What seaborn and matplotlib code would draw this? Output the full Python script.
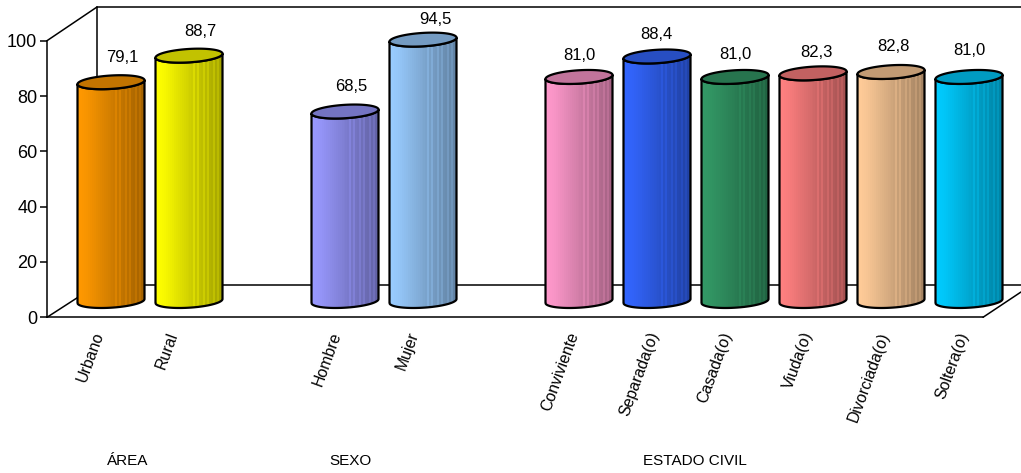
import numpy as np
import pandas as pd
import seaborn as sns
import matplotlib
matplotlib.use("Agg")
import matplotlib.pyplot as plt
from matplotlib.path import Path
from matplotlib.patches import PathPatch
from matplotlib.transforms import Affine2D

categories = ["Urbano", "Rural", "Hombre", "Mujer", "Conviviente", "Separada(o)",
              "Casada(o)", "Viuda(o)", "Divorciada(o)", "Soltera(o)"]
values = [79.1, 88.7, 68.5, 94.5, 81.0, 88.4, 81.0, 82.3, 82.8, 81.0]
value_labels = ["79,1", "88,7", "68,5", "94,5", "81,0", "88,4", "81,0", "82,3", "82,8", "81,0"]
slots = ["Urbano", "Rural", " ", "Hombre", "Mujer", "  ", "Conviviente", "Separada(o)",
         "Casada(o)", "Viuda(o)", "Divorciada(o)", "Soltera(o)"]
bar_colors = ["#FF9900", "#FFFF00", "#9999FF", "#99CCFF", "#FF99CC", "#3366FF",
              "#339966", "#FF8080", "#FFCC99", "#00CCFF"]
groups = ["ÁREA", "SEXO", "ESTADO CIVIL"]
y_ticks = [0, 20, 40, 60, 80, 100]

# label offsets from each cylinder's top, in pixels
label_dx = [11, 11, 6, 12, 0, -1, 0, 3, 2, 0]
label_dy = [25, 24, 25, 20, 21, 22, 22, 21, 25, 26]
# small horizontal nudges of the slanted category labels, in pixels
cat_dx = {"Urbano": -4, "Rural": -7, "Mujer": -1, "Conviviente": 3, "Separada(o)": 6,
          "Casada(o)": 1, "Viuda(o)": 3, "Divorciada(o)": 2, "Soltera(o)": 3}
group_px = [(128, 461), (350, 461), (695, 461)]

W, H = 1021, 473
L, R, B, T = 47, 983, 317.3, 40.7
DEPTH_X, DEPTH_Y = 25, 16.3
UX = (R - L) / 12
UY = (B - T) / 100

sns.set_theme(style="white")
plt.rcParams["font.family"] = ["Liberation Sans", "DejaVu Sans"]

fig = plt.figure(figsize=(W / 100, H / 100), dpi=100, facecolor="white")
ax = fig.add_axes([L / W, 1 - B / H, (R - L) / W, (B - T) / H])
ax.patch.set_visible(False)

df = pd.DataFrame({"cat": categories, "val": values})
sns.barplot(data=df, x="cat", y="val", hue="cat", order=slots, hue_order=categories,
            palette=bar_colors, saturation=1, width=67 / UX, legend=False, ax=ax)

ax.set_xlim(-0.5, 11.5)
ax.set_ylim(0, 100)
ax.set_xlabel("")
ax.set_ylabel("")


def X(px):
    return (px - L) / UX - 0.5


def Y(py):
    return (B - py) / UY


# 3D frame
frame = [((47, 97), (40.7, 7)), ((97, 1021), (7, 7)), ((97, 97), (7, 285)),
         ((97, 1021), (285, 285)), ((47, 97), (317.3, 285)), ((983, 1021), (317.3, 292))]
for xs, ys in frame:
    ax.plot([X(p) for p in xs], [Y(p) for p in ys], color="black", lw=1.1,
            clip_on=False, zorder=0.5, solid_capstyle="round")

depth = ax.transData + Affine2D().translate(DEPTH_X, DEPTH_Y)
b = 6.7 / UY
c = 2.0 / UY
shade = np.interp(np.linspace(0, 1, 34), [0, 0.12, 0.55, 1], [1.0, 0.97, 0.80, 0.64])
for i in (19, 21, 24, 26, 29, 31):
    shade[i] += 0.07
streak = np.floor(np.linspace(0, 33.99, 68)).astype(int)

patches = sorted(ax.patches, key=lambda p: p.get_x())
for k, p in enumerate(patches):
    x0, w, v = p.get_x(), p.get_width(), p.get_height()
    rgb = np.array(p.get_facecolor()[:3])
    p.set_visible(False)
    cx = x0 + w / 2
    t = np.linspace(np.pi, 2 * np.pi, 60)
    fx = cx + w / 2 * np.cos(t)
    low = c * np.cos(t) + b * np.sin(t)
    # side of the cylinder: up the left edge, front of top ellipse, down, front of base
    sx = np.r_[fx, fx[::-1]]
    sy = np.r_[low, (v + low)[::-1]]
    verts = np.c_[sx, sy]
    codes = [Path.MOVETO] + [Path.LINETO] * (len(verts) - 1)
    side = PathPatch(Path(np.r_[verts, verts[:1]], codes + [Path.LINETO]), transform=depth,
                     facecolor="none", edgecolor="black", lw=1.6, clip_on=False, zorder=3,
                     joinstyle="round")
    ax.add_patch(side)
    strip = np.clip(np.outer(shade[streak], rgb), 0, 1)[None, :, :]
    im = ax.imshow(strip, extent=(x0, x0 + w, -10, v + 10), aspect="auto", transform=depth,
                   interpolation="nearest", zorder=2.5)
    clip = PathPatch(Path(np.r_[verts, verts[:1]], codes + [Path.LINETO]), transform=depth)
    im.set_clip_path(clip)
    im.set_clip_box(fig.bbox)
    # top ellipse
    a = np.linspace(0, 2 * np.pi, 90)
    ax.fill(cx + w / 2 * np.cos(a), v + c * np.cos(a) + b * np.sin(a), transform=depth,
            facecolor=rgb * 0.76, edgecolor="black", lw=1.6, clip_on=False, zorder=4)
    ax.annotate(value_labels[k], xy=(cx, v), xycoords=depth,
                xytext=(label_dx[k] * 0.72, label_dy[k] * 0.72), textcoords="offset points",
                ha="center", va="center", fontsize=12, color="black", annotation_clip=False)

ax.set_xlim(-0.5, 11.5)
ax.set_ylim(0, 100)

for s in ("top", "right"):
    ax.spines[s].set_visible(False)
for s in ("left", "bottom"):
    ax.spines[s].set_linewidth(1.1)
    ax.spines[s].set_color("black")
ax.set_yticks(y_ticks)
ax.tick_params(axis="y", left=True, length=5, width=1.1, color="black", pad=2, labelsize=13,
               labelcolor="black")
ax.set_xticks(range(len(slots)))
ax.set_xticklabels(slots)
ax.tick_params(axis="x", bottom=False, length=0, pad=0, labelsize=11.4, labelcolor="black")
for lab in ax.get_xticklabels():
    lab.set_rotation(70)
    lab.set_ha("right")
    lab.set_va("center")
    lab.set_rotation_mode("anchor")
    shift = Affine2D().translate(17 + cat_dx.get(lab.get_text(), 0), -15)
    lab.set_transform(lab.get_transform() + shift)

for name, (px, py) in zip(groups, group_px):
    fig.text(px / W, 1 - py / H, name, ha="center", va="center", fontsize=11, color="black")

fig.savefig("out.png", dpi=100, facecolor="white")
